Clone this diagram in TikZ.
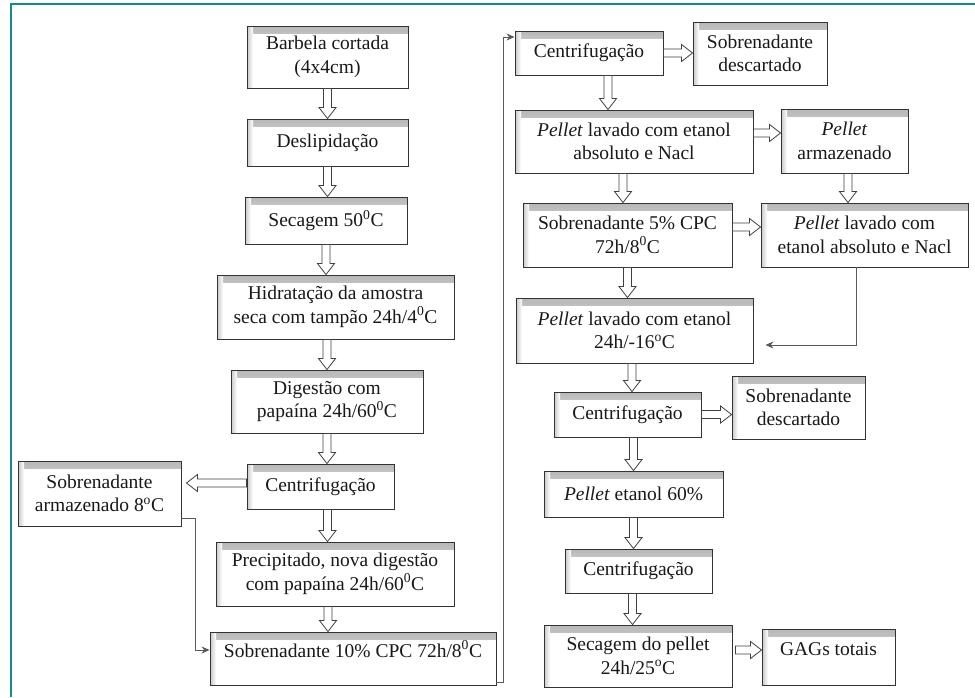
\documentclass[tikz,border=0pt]{standalone}
\usepackage{fontspec}
\setmainfont{Liberation Serif}
\usepackage{xcolor}
\usepackage{tikz}
\usetikzlibrary{arrows,arrows.meta}
\usetikzlibrary{calc}
\usetikzlibrary{positioning}
\definecolor{frameteal}{RGB}{16,140,140}

\begin{document}
\begin{tikzpicture}[>={Stealth[length=8pt,width=7pt]}, x=1pt, y=-1pt,
	font=\fontsize{19.5}{23.5}\selectfont,
	box/.style={draw=black!80, line width=0.9pt, fill=white, align=center, inner sep=1pt, text=black!90,
		path picture={
			\shade[top color=black!28, bottom color=white] (path picture bounding box.north west) rectangle ([yshift=-7pt]path picture bounding box.north east);
			\shade[left color=black!22, right color=white] (path picture bounding box.north west) rectangle ([xshift=6pt]path picture bounding box.south west);
		}},
	topbox/.style={box, text height=14pt, text depth=17pt},
	hollow/.style={draw=black!75, fill=white, line width=0.8pt,
		to path={let \p1=(\tikztostart), \p2=(\tikztotarget),
			\n1={veclen(\x2-\x1,\y2-\y1)}, \n2={(\x2-\x1)/\n1}, \n3={(\y2-\y1)/\n1} in
			(\x1-4pt*\n3,\y1+4pt*\n2) -- (\x2-11pt*\n2-4pt*\n3,\y2-11pt*\n3+4pt*\n2)
			-- (\x2-11pt*\n2-8.5pt*\n3,\y2-11pt*\n3+8.5pt*\n2) -- (\x2,\y2)
			-- (\x2-11pt*\n2+8.5pt*\n3,\y2-11pt*\n3-8.5pt*\n2) -- (\x2-11pt*\n2+4pt*\n3,\y2-11pt*\n3-4pt*\n2)
			-- (\x1+4pt*\n3,\y1-4pt*\n2) -- cycle}},
	link/.style={draw=black!65, line width=1pt, ->}]

\useasboundingbox (0,0) rectangle (975,697);
\draw[frameteal, line width=2pt] (10.5,697) -- (10.5,3.5) -- (975,3.5);

\node[box, minimum width=161pt, minimum height=62pt] (barbela) at (327.5,57) {Barbela cortada\\(4x4cm)};
\node[box, minimum width=161pt, minimum height=47pt] (desl) at (327.5,142.5) {Deslipidação};
\node[box, minimum width=162pt, minimum height=47pt] (sec) at (326,220.5) {Secagem 50\textsuperscript{0}C};
\node[box, minimum width=237pt, minimum height=64pt] (hid) at (335.5,307) {Hidratação da amostra\\seca com tampão 24h/4\textsuperscript{0}C};
\node[box, minimum width=192pt, minimum height=63pt] (dig) at (327,401.5) {Digestão com\\papaína 24h/60\textsuperscript{0}C};
\node[box, minimum width=147pt, minimum height=45pt] (cent1) at (320.5,486.5) {Centrifugação};
\node[box, minimum width=163pt, minimum height=65pt] (sobarm) at (99.5,493.5) {Sobrenadante\\armazenado 8\textsuperscript{o}C};
\node[box, minimum width=238pt, minimum height=64pt] (prec) at (335,574) {Precipitado, nova digestão\\com papaína 24h/60\textsuperscript{0}C};
\node[topbox, minimum width=286pt, minimum height=53pt] (sob10) at (353,658.5) {Sobrenadante 10\% CPC 72h/8\textsuperscript{0}C};

\node[box, minimum width=148pt, minimum height=44pt] (cent2) at (589,53) {Centrifugação};
\node[box, minimum width=134pt, minimum height=63pt] (sobdesc1) at (760,53.5) {Sobrenadante\\descartado};
\node[box, minimum width=238pt, minimum height=63pt] (pel1) at (634,141.5) {\textit{Pellet} lavado com etanol\\absoluto e Nacl};
\node[box, minimum width=127pt, minimum height=64pt] (pelarm) at (844.5,141) {\textit{Pellet}\\armazenado};
\node[box, minimum width=209pt, minimum height=64pt] (sob5) at (627.5,235) {Sobrenadante 5\% CPC\\72h/8\textsuperscript{0}C};
\node[box, minimum width=207pt, minimum height=64pt] (pel2) at (864.5,235) {\textit{Pellet} lavado com\\etanol absoluto e Nacl};
\node[box, minimum width=237pt, minimum height=65pt] (pel24) at (634.5,330.5) {\textit{Pellet} lavado com etanol\\24h/-16\textsuperscript{o}C};
\node[box, minimum width=147pt, minimum height=45pt] (cent3) at (627.5,414.5) {Centrifugação};
\node[box, minimum width=133pt, minimum height=63pt] (sobdesc2) at (798.5,407.5) {Sobrenadante\\descartado};
\node[box, minimum width=179pt, minimum height=46pt] (pel60) at (633.5,494) {\textit{Pellet} etanol 60\%};
\node[box, minimum width=147pt, minimum height=44pt] (cent4) at (638.5,571) {Centrifugação};
\node[box, minimum width=188pt, minimum height=62pt] (secpel) at (638,656) {Secagem do pellet\\24h/25\textsuperscript{o}C};
\node[topbox, minimum width=133pt, minimum height=56pt] (gags) at (828.5,657) {GAGs totais};

\draw[hollow] (barbela.south) to (barbela.south |- desl.north);
\draw[hollow] (desl.south) to (desl.south |- sec.north);
\draw[hollow] (sec.south) to (sec.south |- hid.north);
\draw[hollow] (dig.north |- hid.south) to (dig.north);
\draw[hollow] (dig.south) to (dig.south |- cent1.north);
\draw[hollow] ([yshift=3.5pt]cent1.west) to ([xshift=5pt,yshift=3.5pt]cent1.west -| sobarm.east);
\draw[hollow] ([xshift=7pt]cent1.south) to ([xshift=7pt]cent1.south |- prec.north);
\draw[hollow] ([xshift=-7pt]prec.south) to ([xshift=-7pt]prec.south |- sob10.north);

\draw[hollow] (cent2.east) to (cent2.east -| sobdesc1.west);
\draw[hollow] ([xshift=19pt]cent2.south) to ([xshift=19pt]cent2.south |- pel1.north);
\draw[hollow] ([yshift=8.5pt]pel1.east) to ([yshift=8.5pt]pel1.east -| pelarm.west);
\draw[hollow] ([xshift=-11pt]pel1.south) to ([xshift=-11pt]pel1.south |- sob5.north);
\draw[hollow] ([xshift=3.5pt]pelarm.south) to ([xshift=3.5pt]pelarm.south |- pel2.north);
\draw[hollow] ([yshift=8pt]sob5.east) to ([yshift=8pt]sob5.east -| pel2.west);
\draw[hollow] (sob5.south) to (sob5.south |- pel24.north);
\draw[hollow] ([xshift=-2.5pt]pel24.south) to ([xshift=-2.5pt]pel24.south |- cent3.north);
\draw[hollow] (cent3.east) to (cent3.east -| sobdesc2.west);
\draw[hollow] (pel60.north |- cent3.south) to (pel60.north);
\draw[hollow] (pel60.south) to (pel60.south |- cent4.north);
\draw[hollow] ([xshift=-6pt]cent4.south) to ([xshift=-6pt]cent4.south |- secpel.north);
\draw[hollow] ([xshift=3pt,yshift=6pt]secpel.east) to ([yshift=6pt]secpel.east -| gags.west);

\draw[link] ([yshift=-24.5pt]sobarm.east) -- ++(14,0) |- ([yshift=8.5pt]sob10.west);
\draw[link] ([yshift=-23.5pt]sob10.east) -- ++(7,0) |- ([yshift=16pt]cent2.west);
\draw[link, shorten >=12pt] ([xshift=-8.5pt]pel2.south) |- ([yshift=-14.5pt]pel24.east);
\end{tikzpicture}
\end{document}
